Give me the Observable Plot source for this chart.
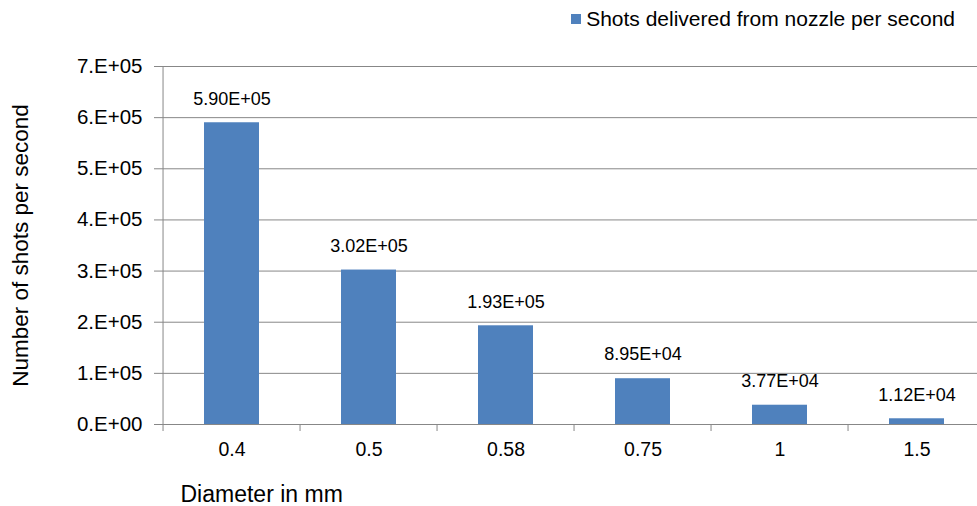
<!DOCTYPE html>
<html>
<head>
<meta charset="utf-8">
<script src="https://cdn.jsdelivr.net/npm/d3@7"></script>
<script src="https://cdn.jsdelivr.net/npm/@observablehq/plot@0.6"></script>
<style>
  html, body { margin: 0; padding: 0; background: #fff; overflow: hidden; }
  #chart { width: 977px; font-family: "Liberation Sans", Arial, sans-serif; }
  .legend {
    height: 40px; box-sizing: border-box; padding: 0 22px 3px 0;
    display: flex; justify-content: flex-end; align-items: center;
    font-size: 21px; color: #000;
  }
  .legend .swatch { width: 10px; height: 10px; margin-right: 5px; }
</style>
</head>
<body>
<div id="chart"></div>
<script>
// Nozzle diameters (mm) and shots per second delivered at each
const diameters = ["0.4", "0.5", "0.58", "0.75", "1", "1.5"];
const shotsPerSecond = [590000, 302000, 193000, 89500, 37700, 11200];
const seriesName = "Shots delivered from nozzle per second";

// Value axis ticks and their labels
const yTicks = [0, 100000, 200000, 300000, 400000, 500000, 600000, 700000];
const yTickLabels = ["0.E+00", "1.E+05", "2.E+05", "3.E+05", "4.E+05", "5.E+05", "6.E+05", "7.E+05"];

const xTitle = "Diameter in mm";
const yTitle = "Number of shots per second";

const BAR = "#4F81BD";
const GRID = "#878787";

// Scientific notation like 5.90E+05
function sci(v) {
  const [m, e] = v.toExponential(2).split("e");
  const n = +e;
  return m + "E" + (n < 0 ? "-" : "+") + String(Math.abs(n)).padStart(2, "0");
}

const rows = diameters.map((d, i) => ({diameter: d, shots: shotsPerSecond[i]}));

const W = 977, H = 466;
const mL = 160, mR = -10.5;
const xOpts = {type: "band", domain: diameters, paddingInner: 0.6, paddingOuter: 0.3};
const xs = Plot.scale({x: {...xOpts, range: [mL, W - mR]}});
const half = xs.step / 2;

const chart = document.getElementById("chart");

// Legend
const legend = document.createElement("div");
legend.className = "legend";
const sw = document.createElement("span");
sw.className = "swatch";
sw.style.background = BAR;
const lt = document.createElement("span");
lt.textContent = seriesName;
legend.append(sw, lt);
chart.append(legend);

const plot = Plot.plot({
  width: W,
  height: H,
  marginLeft: mL,
  marginRight: mR,
  marginTop: 26,
  marginBottom: 82,
  style: {fontFamily: "'Liberation Sans', Arial, sans-serif", background: "#fff", overflow: "hidden", color: "#000"},
  x: {...xOpts, axis: null},
  y: {domain: [0, 700000], axis: null},
  marks: [
    Plot.gridY(yTicks, {stroke: GRID, strokeOpacity: 1, strokeWidth: 1}),
    Plot.ruleX([diameters[0]], {y1: 0, y2: 700000, dx: -half, stroke: GRID}),
    Plot.axisY(yTicks, {
      tickSize: 6, tickPadding: 12, stroke: GRID, fill: "#000", fontSize: 20.5,
      tickFormat: d => yTickLabels[yTicks.indexOf(d)], label: null
    }),
    // tick marks between categories
    Plot.axisX(diameters, {tickSize: 7, fill: "none", stroke: GRID, dx: -half, label: null}),
    Plot.axisX(diameters, {tickSize: 0, tickPadding: 18, fill: "#000", fontSize: 19.5, label: null}),
    Plot.barY(rows, {x: "diameter", y: "shots", fill: BAR}),
    Plot.text(rows, {x: "diameter", y: "shots", text: d => sci(d.shots), dy: -24, fontSize: 18, fill: "#000"}),
    Plot.text([yTitle], {text: d => d, frameAnchor: "left", textAnchor: "middle", rotate: -90, dx: -140, fontSize: 22.5, fill: "#000"}),
    Plot.text([xTitle], {text: d => d, frameAnchor: "bottom-left", textAnchor: "start", lineAnchor: "bottom", dx: 20, dy: 77, fontSize: 23, fill: "#000"})
  ]
});
chart.append(plot);
</script>
</body>
</html>
